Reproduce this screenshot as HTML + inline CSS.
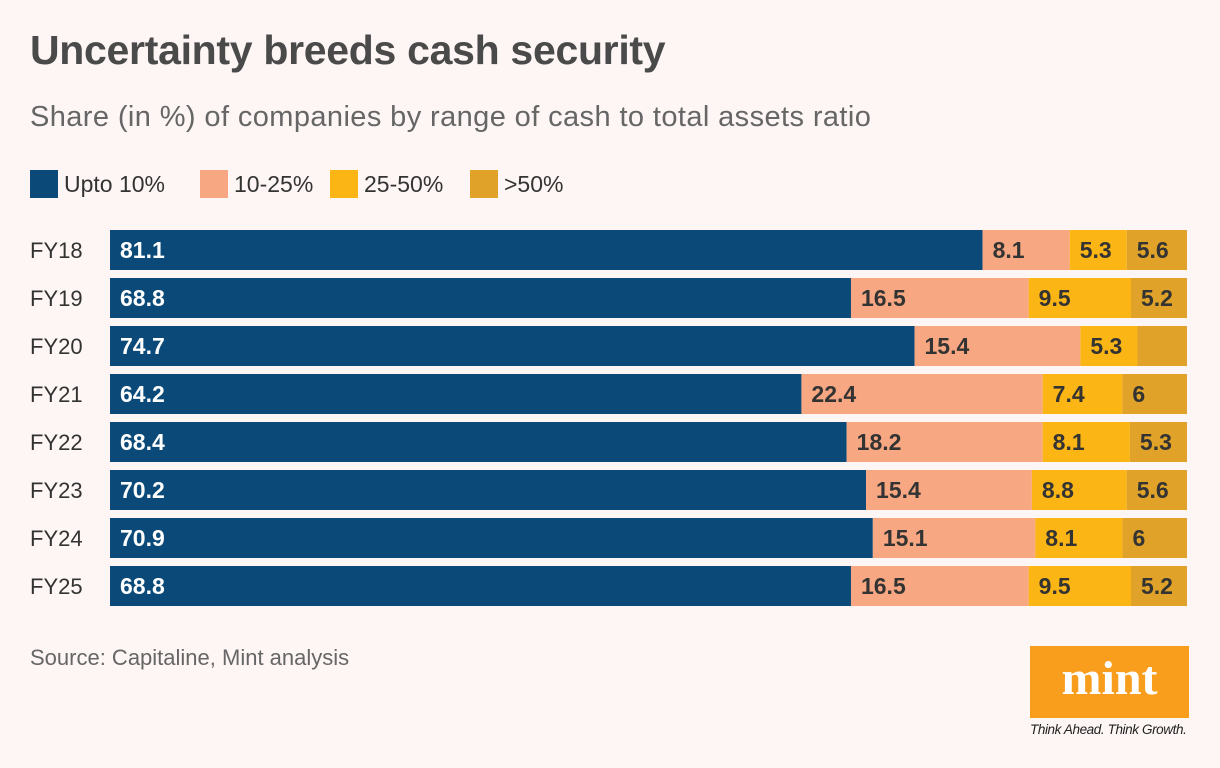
<!DOCTYPE html>
<html><head><meta charset="utf-8"><style>
body{margin:0;width:1220px;height:768px;background:#fdf6f4;font-family:"Liberation Sans",sans-serif;position:relative;overflow:hidden}
.t{position:absolute;white-space:nowrap}
</style></head><body>
<div class="t" style="left:30px;top:27px;font-size:41px;font-weight:bold;color:#4a4a4a;letter-spacing:-0.3px">Uncertainty breeds cash security</div>
<div class="t" style="left:30px;top:101px;font-size:29px;color:#666;letter-spacing:0.4px">Share (in %) of companies by range of cash to total assets ratio</div>
<div id="legend"></div>
<svg id="chart" width="1220" height="640" style="position:absolute;left:0;top:0"></svg>
<div class="t" style="left:30px;top:645px;font-size:22px;color:#666">Source: Capitaline, Mint analysis</div>
<div style="position:absolute;left:1030px;top:646px;width:159px;height:72px;background:#f99d1c;color:#fff;font-family:'Liberation Serif',serif;font-weight:bold;font-size:48px;text-align:center;line-height:66px">mint</div>
<div class="t" style="left:1030px;top:722px;font-size:13.5px;font-style:italic;color:#222;letter-spacing:-0.4px">Think Ahead. Think Growth.</div>
<script>
const categories=["FY18","FY19","FY20","FY21","FY22","FY23","FY24","FY25"];
const seriesNames=["Upto 10%","10-25%","25-50%",">50%"];
const upto10=[81.1,68.8,74.7,64.2,68.4,70.2,70.9,68.8];
const r10to25=[8.1,16.5,15.4,22.4,18.2,15.4,15.1,16.5];
const r25to50=[5.3,9.5,5.3,7.4,8.1,8.8,8.1,9.5];
const over50=[5.6,5.2,null,6,5.3,5.6,6,5.2];
const colors=["#0b4a78","#f7a882","#fbb515","#e0a228"];
const textColors=["#fff","#333","#333","#333"];
const series=[upto10,r10to25,r25to50,over50];
const ns="http://www.w3.org/2000/svg";
const svg=document.getElementById('chart');
const x0=110,x1=1187,y0=230,pitch=48,bh=40;
const leg=document.getElementById('legend');
let lx=30;
const legW=[170,130,140,100];
seriesNames.forEach((n,i)=>{
  const d=document.createElement('div');d.className='t';
  
  
  d.style.cssText=`left:${lx}px;top:170px;font-size:23px;color:#333;display:flex;align-items:center`;
  d.innerHTML=`<span style="display:inline-block;width:28px;height:28px;background:${colors[i]};margin-right:6px"></span>${n}`;
  leg.appendChild(d);lx+=legW[i];
});
categories.forEach((c,r)=>{
  const y=y0+r*pitch;
  const vals=series.map(s=>s[r]);
  const known=vals.reduce((a,v)=>a+(v==null?0:v),0);
  const filled=vals.map(v=>v==null?Math.max(0,100-known):v);
  const tot=filled.reduce((a,b)=>a+b,0);
  const sc=v=>v/tot*(x1-x0);
  const lab=document.createElementNS(ns,'text');
  
  
  lab.setAttribute('x',30);lab.setAttribute('y',y+bh/2+8);
  lab.setAttribute('font-size','22');lab.setAttribute('fill','#333');
  lab.textContent=c;svg.appendChild(lab);
  let x=x0;
  filled.forEach((v,i)=>{
    const w=sc(v);
    const rc=document.createElementNS(ns,'rect');
    
    
    rc.setAttribute('x',x);rc.setAttribute('y',y);rc.setAttribute('width',w);rc.setAttribute('height',bh);
    rc.setAttribute('fill',colors[i]);svg.appendChild(rc);
    if(vals[i]!=null){
      const t=document.createElementNS(ns,'text');
      
      
      t.setAttribute('x',x+10);t.setAttribute('y',y+bh/2+8);
      t.setAttribute('font-size','23');t.setAttribute('font-weight','bold');
      t.setAttribute('fill',textColors[i]);
      t.textContent=vals[i];svg.appendChild(t);
    }
    x+=w;
  });
});
</script>
</body></html>
